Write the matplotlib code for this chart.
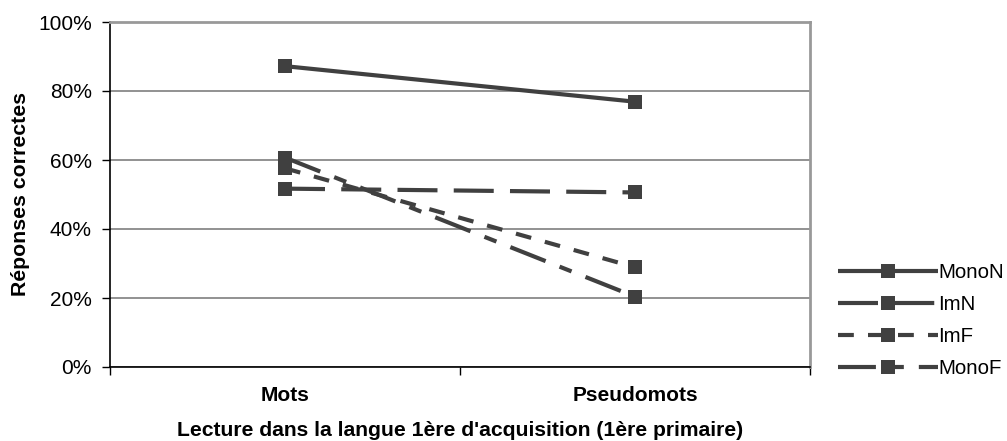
import matplotlib
matplotlib.use("Agg")
import matplotlib.pyplot as plt
from matplotlib.ticker import FixedLocator, PercentFormatter

plt.rcParams['font.family'] = ['Liberation Sans', 'DejaVu Sans']

categories = ["Mots", "Pseudomots"]
series_names = ["MonoN", "ImN", "ImF", "MonoF"]
mono_n = [87.2, 76.9]
im_n = [51.7, 50.6]
im_f = [57.6, 28.9]
mono_f = [60.7, 20.4]
y_ticks = [0, 20, 40, 60, 80, 100]

ink = "#404040"
styles = {
    "MonoN": "-",
    "ImN": (0, (9.6, 3.9)),
    "ImF": (0, (3.8, 3.4)),
    "MonoF": (0, (9.1, 3.6, 3.1, 3.6)),
}
values = {"MonoN": mono_n, "ImN": im_n, "ImF": im_f, "MonoF": mono_f}

fig = plt.figure(figsize=(10.07, 4.41), dpi=100)
ax = fig.add_axes([110 / 1007, 74 / 441, 700 / 1007, 345 / 441])

xpos = [0.5, 1.5]
handles = []
for name in series_names:
    h, = ax.plot(xpos, values[name], color=ink, lw=3.0, linestyle=styles[name],
                 marker="s", markersize=10.5, markeredgewidth=0,
                 markerfacecolor=ink, label=name, solid_capstyle="butt",
                 dash_capstyle="butt", zorder=3)
    handles.append(h)

ax.set_xlim(0, 2)
ax.set_ylim(0, 100)
ax.yaxis.set_major_locator(FixedLocator(y_ticks))
ax.yaxis.set_major_formatter(PercentFormatter(decimals=0))
ax.grid(axis="y", color="#7f7f7f", lw=1.2, zorder=0)
ax.set_axisbelow(True)

ax.set_xticks(xpos)
ax.set_xticklabels(categories, fontsize=15, fontweight="bold")
ax.set_xticks([0, 1, 2], minor=True)
ax.tick_params(axis="x", which="major", length=0, pad=13.5)
ax.tick_params(axis="x", which="minor", length=6, direction="out", width=1)
ax.tick_params(axis="y", length=6, direction="out", width=1, labelsize=15, pad=7)

for side in ("left", "bottom"):
    ax.spines[side].set_color("black")
    ax.spines[side].set_linewidth(1.2)
for side in ("top", "right"):
    ax.spines[side].set_color("#999999")
    ax.spines[side].set_linewidth(2)

ax.set_ylabel("Réponses correctes", fontsize=15.3, fontweight="bold", labelpad=6)
ax.set_xlabel("Lecture dans la langue 1ère d'acquisition (1ère primaire)",
              fontsize=15.2, fontweight="bold", labelpad=12)

fig.legend(handles=handles, loc="upper left", bbox_to_anchor=(838 / 1007, 1 - 263 / 441),
           frameon=False, fontsize=14.8, numpoints=1, handlelength=4.86,
           handletextpad=0.02, labelspacing=0.63, borderaxespad=0, borderpad=0)

fig.savefig("out.png", dpi=100)
